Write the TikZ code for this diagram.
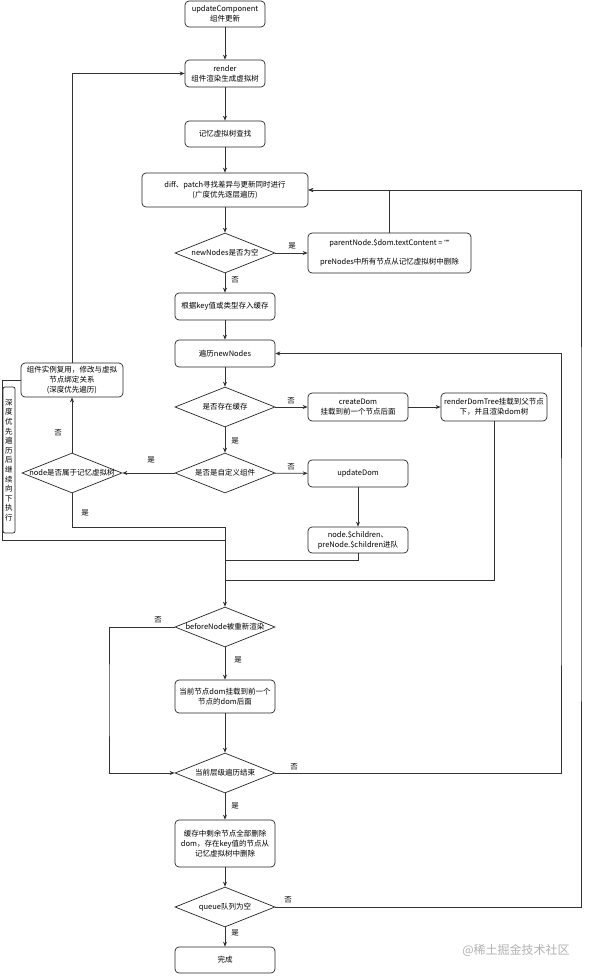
\documentclass[tikz,border=0pt]{standalone}
\usepackage{fontspec}
\setmainfont{Noto Sans CJK SC}
\newfontfamily\latinfont{Liberation Sans}
\usetikzlibrary{shapes.geometric,arrows.meta}

\newcommand{\fs}{\fontsize{7.5}{10}\selectfont}

\tikzset{
  box/.style={draw=black!85, line width=0.7pt, rounded corners=4pt, minimum width=100pt, minimum height=27pt, align=center, inner sep=1pt, font=\fs},
  decision/.style={diamond, draw=black!85, line width=0.7pt, minimum width=100pt, minimum height=40pt, inner sep=0pt, font=\fs},
  flow/.style={draw=black!80, line width=0.7pt, -{Stealth[length=5pt,width=4pt]}},
  link/.style={draw=black!80, line width=0.7pt},
  lbl/.style={font=\fs, inner sep=0pt}
}

\begin{document}
\begin{tikzpicture}[x=1pt, y=-1pt]
    \fill[white] (0,0) rectangle (593,977);
    \useasboundingbox (0,0) rectangle (593,977);

    % Main column, top part
    \node[box, minimum width=80pt, minimum height=26pt] (uc) at (225,14) {updateComponent\\组件更新};
    \node[box, minimum width=80pt] (render) at (225,73.5) {render\\组件渲染生成虚拟树};
    \node[box, minimum width=80pt, minimum height=26pt] (memo) at (225,134) {记忆虚拟树查找};
    \node[box, minimum width=166pt, minimum height=34pt] (diff) at (225,190) {diff、patch寻找差异与更新同时进行\\(广度优先逐层遍历)};
    \node[decision] (dEmpty) at (225,253) {\makebox[0pt]{newNodes是否为空}};
    \node[box, minimum width=163pt, minimum height=40pt] (clear) at (389.5,253) {parentNode.\$dom.textContent = {\latinfont""}\\[9pt]preNodes中所有节点从记忆虚拟树中删除};
    \node[box] (cache) at (225,306.5) {根据key值或类型存入缓存};
    \node[box] (loop) at (225,353.5) {遍历newNodes};

    % Cache check and dom creation
    \node[decision] (dCache) at (225,407) {\makebox[0pt]{是否存在缓存}};
    \node[box, minimum height=28pt] (create) at (358,407) {createDom\\挂载到前一个节点后面};
    \node[box, minimum width=106pt, minimum height=28pt] (renderTree) at (494,407) {renderDomTree挂载到父节点\\下，并且渲染dom树};
    \node[decision] (dCustom) at (225,473) {\makebox[0pt]{是否是自定义组件}};
    \node[box] (upd) at (358,473.5) {updateDom};
    \node[box, minimum height=26pt] (children) at (358,540) {node.\$children、\\preNode.\$children进队};

    % Left branch: component reuse
    \node[decision] (dMemo) at (72,473) {\makebox[0pt]{node是否属于记忆虚拟树}};
    \node[box, minimum width=102pt, minimum height=34pt] (reuse) at (72,380) {组件实例复用，修改与虚拟\\节点绑定关系\\(深度优先遍历)};
    \node[draw=black!85, line width=0.7pt, rounded corners=2pt, minimum width=12pt, minimum height=146pt, inner sep=0pt, align=center, font=\fontsize{7.5}{9.6}\selectfont] (depth) at (9,460)
        {深\\度\\优\\先\\遍\\历\\后\\继\\续\\向\\下\\执\\行};

    % Main column, bottom part
    \node[decision] (dBefore) at (225,627) {\makebox[0pt]{beforeNode被重新渲染}};
    \node[box, minimum height=33pt] (mount) at (225,696.5) {当前节点dom挂载到前一个\\节点的dom后面};
    \node[decision] (dLevel) at (225,773) {\makebox[0pt]{当前层级遍历结束}};
    \node[box, minimum height=47pt] (clean) at (225,843.5) {缓存中剩余节点全部删除\\dom，存在key值的节点从\\记忆虚拟树中删除};
    \node[decision] (dQueue) at (225,907) {\makebox[0pt]{queue队列为空}};
    \node[box, minimum height=26pt] (done) at (225,960) {完成};

    % Bend points
    \coordinate (merge) at (225,527);
    \coordinate (m1) at (225,540);
    \coordinate (m2) at (225,560);
    \coordinate (m3) at (225,580);
    \coordinate (edgeL) at (2,540);
    \coordinate (skipB) at (109,700);
    \coordinate (loopR) at (561,560);
    \coordinate (queueR) at (581,500);

    % Connectors
    \draw[flow] (uc) -- (render);
    \draw[flow] (render) -- (memo);
    \draw[flow] (memo) -- (diff);
    \draw[flow] (diff) -- (dEmpty);
    \draw[flow] (dEmpty) -- (clear);
    \draw[flow] (clear.north) |- (diff.east);
    \draw[flow] (dEmpty) -- (cache);
    \draw[flow] (cache) -- (loop);
    \draw[flow] (loop) -- (dCache);
    \draw[flow] (dCache) -- (create);
    \draw[flow] (create) -- (renderTree);
    \draw[flow] (dCache) -- (dCustom);
    \draw[flow] (dCustom) -- (upd);
    \draw[flow] (upd) -- (children);
    \draw[flow] (dCustom) -- (dMemo);
    \draw[flow] (dMemo) -- (reuse);
    \draw[flow] (reuse.north) |- (render.west);
    \draw[link] (reuse.west) -| (edgeL) -- (m1);
    \draw[link] (dMemo.south) |- (merge);
    \draw[link] (children.south) |- (m2);
    \draw[link] (renderTree.south) |- (m3);
    \draw[flow] (merge) -- (dBefore.north);
    \draw[flow] (dBefore.west) -| (skipB) |- (dLevel.west);
    \draw[flow] (dBefore) -- (mount);
    \draw[flow] (mount) -- (dLevel);
    \draw[flow] (dLevel.east) -| (loopR) |- (loop.east);
    \draw[flow] (dLevel) -- (clean);
    \draw[flow] (clean) -- (dQueue);
    \draw[flow] (dQueue.east) -| (queueR) |- (diff.east);
    \draw[flow] (dQueue) -- (done);

    % Yes / no labels
    \node[lbl] (y1) at (292,246) {是};
    \node[lbl] (n1) at (235,280) {否};
    \node[lbl] (n2) at (291,401) {否};
    \node[lbl] (y2) at (235,441) {是};
    \node[lbl] (n3) at (291,467) {否};
    \node[lbl] (y3) at (151,460) {是};
    \node[lbl] (n4) at (58,433) {否};
    \node[lbl] (y4) at (85,513) {是};
    \node[lbl] (n5) at (158,620) {否};
    \node[lbl] (y5) at (238,660) {是};
    \node[lbl] (n6) at (294,767) {否};
    \node[lbl] (y6) at (235,806) {是};
    \node[lbl] (n7) at (288,900) {否};
    \node[lbl] (y7) at (235,933) {是};

    % Watermark
    \node[font=\fontsize{12}{14}\selectfont, text=black!30, inner sep=0pt] (mark) at (516,950) {@稀土掘金技术社区};
\end{tikzpicture}
\end{document}
